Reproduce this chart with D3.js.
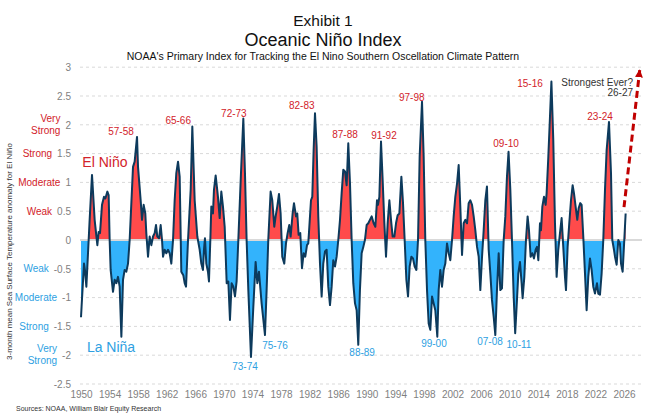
<!DOCTYPE html>
<html>
<head>
<meta charset="utf-8">
<style>
  body { margin: 0; background: #fff; }
  svg { font-family: "Liberation Sans", Arial, sans-serif; }
</style>
</head>
<body>
<svg width="653" height="414"></svg>
<script src="https://d3js.org/d3.v7.min.js"></script>
<script>
// index at its turning points (decimal year, value)
const years = [
  1950.00, 1950.08, 1950.42, 1950.55, 1950.75, 1951.21, 1951.54, 1951.91, 1952.29, 1952.47, 1952.66, 1952.94,
  1953.22, 1953.41, 1953.69, 1953.87, 1954.01, 1954.15, 1954.48, 1954.71, 1954.95, 1955.18, 1955.41, 1955.65,
  1955.88, 1956.11, 1956.34, 1956.58, 1956.81, 1957.28, 1957.51, 1957.84, 1957.98, 1958.35, 1958.54, 1958.77,
  1959.00, 1959.14, 1959.38, 1959.61, 1959.84, 1960.08, 1960.31, 1960.50, 1960.68, 1960.92, 1961.15, 1961.34,
  1961.48, 1961.71, 1961.94, 1962.18, 1962.41, 1962.64, 1962.88, 1963.11, 1963.34, 1963.58, 1963.81, 1964.04,
  1964.32, 1964.51, 1964.70, 1964.98, 1965.35, 1965.58, 1965.91, 1966.28, 1966.61, 1966.84, 1967.07, 1967.21,
  1967.35, 1967.54, 1967.77, 1967.91, 1968.10, 1968.24, 1968.47, 1968.61, 1968.85, 1969.17, 1969.41, 1969.64,
  1969.87, 1970.11, 1970.39, 1970.62, 1970.85, 1971.08, 1971.32, 1971.55, 1971.78, 1972.02, 1972.39, 1972.72,
  1972.95, 1973.18, 1973.42, 1973.79, 1974.12, 1974.44, 1974.68, 1974.91, 1975.28, 1975.75, 1975.98, 1976.21,
  1976.54, 1976.77, 1977.05, 1977.24, 1977.47, 1977.71, 1977.94, 1978.17, 1978.45, 1978.69, 1978.92, 1979.15,
  1979.34, 1979.62, 1979.81, 1980.09, 1980.27, 1980.46, 1980.69, 1980.93, 1981.16, 1981.39, 1981.63, 1981.81,
  1982.05, 1982.19, 1982.37, 1982.56, 1982.75, 1982.98, 1983.21, 1983.45, 1983.68, 1983.91, 1984.15, 1984.38,
  1984.61, 1984.85, 1985.08, 1985.31, 1985.55, 1985.78, 1986.01, 1986.25, 1986.48, 1986.71, 1986.95, 1987.18,
  1987.41, 1987.65, 1987.88, 1988.11, 1988.35, 1988.58, 1988.81, 1989.04, 1989.28, 1989.51, 1989.74, 1989.98,
  1990.21, 1990.68, 1990.96, 1991.20, 1991.43, 1991.57, 1991.76, 1991.99, 1992.22, 1992.46, 1992.69, 1992.92,
  1993.16, 1993.39, 1993.62, 1993.86, 1994.09, 1994.32, 1994.56, 1994.84, 1995.07, 1995.30, 1995.54, 1995.77,
  1996.00, 1996.24, 1996.47, 1996.70, 1996.94, 1997.17, 1997.40, 1997.73, 1997.96, 1998.19, 1998.43, 1998.66,
  1998.89, 1999.13, 1999.36, 1999.59, 1999.87, 2000.06, 2000.29, 2000.53, 2000.76, 2000.99, 2001.23, 2001.46,
  2001.69, 2001.93, 2002.16, 2002.39, 2002.63, 2002.86, 2003.09, 2003.33, 2003.56, 2003.79, 2004.03, 2004.26,
  2004.49, 2004.73, 2004.96, 2005.19, 2005.43, 2005.66, 2005.89, 2006.13, 2006.36, 2006.59, 2006.82, 2007.06,
  2007.29, 2007.52, 2007.76, 2007.99, 2008.22, 2008.46, 2008.69, 2008.92, 2009.16, 2009.39, 2009.62, 2009.84,
  2010.09, 2010.32, 2010.56, 2010.77, 2010.97, 2011.21, 2011.44, 2011.67, 2011.81, 2012.05, 2012.28, 2012.51,
  2012.70, 2012.93, 2013.17, 2013.40, 2013.63, 2013.82, 2014.01, 2014.24, 2014.38, 2014.57, 2014.80, 2015.03,
  2015.17, 2015.41, 2015.64, 2015.84, 2016.10, 2016.34, 2016.57, 2016.80, 2017.04, 2017.27, 2017.50, 2017.74,
  2017.88, 2018.11, 2018.34, 2018.58, 2018.81, 2019.00, 2019.23, 2019.46, 2019.65, 2019.88, 2020.07, 2020.30,
  2020.54, 2020.77, 2021.00, 2021.24, 2021.47, 2021.70, 2021.94, 2022.03, 2022.22, 2022.40, 2022.64, 2022.87,
  2023.10, 2023.34, 2023.57, 2023.90, 2024.18, 2024.36, 2024.60, 2024.74, 2024.97, 2025.20, 2025.43, 2025.58,
  2025.81, 2026.04, 2026.23
];
const oni = [
  -1.34, -1.16, -0.41, -0.52, -0.81, 0.35, 1.13, 0.35, -0.09, 0.14, 0.12, 0.61,
  0.75, 0.72, 0.84, 0.78, 0.00, -0.52, -0.90, -0.69, -0.75, -0.64, -0.81, -1.68,
  -0.69, -0.52, -0.55, -0.41, 0.00, 1.27, 1.36, 1.79, 1.27, 0.69, 0.35, 0.61,
  0.46, 0.12, -0.29, 0.06, -0.09, 0.06, 0.12, 0.26, 0.06, 0.03, 0.26, 0.00,
  -0.29, -0.17, -0.23, -0.17, -0.23, -0.41, 0.00, 0.69, 1.16, 1.36, 1.10, -0.55,
  -0.61, -0.75, -0.81, 0.00, 0.87, 1.97, 0.69, 0.06, -0.17, -0.41, -0.52, -0.17,
  0.03, -0.41, -0.55, -0.72, 0.00, 0.58, 0.46, 0.87, 1.12, 0.75, 0.38, 0.84,
  0.58, 0.23, -0.75, -0.72, -1.39, -0.75, -0.81, -0.98, -0.72, 0.00, 1.16, 2.11,
  1.16, 0.00, -0.87, -2.03, -1.16, -0.38, -0.75, -0.55, -1.10, -1.65, -0.87, 0.00,
  0.84, 0.69, 0.23, 0.41, 0.58, 0.80, 0.46, -0.29, -0.41, -0.06, 0.12, 0.26,
  0.06, 0.46, 0.64, 0.41, 0.46, 0.09, 0.12, -0.49, -0.23, -0.29, -0.09, -0.06,
  0.41, 0.69, 0.75, 1.56, 2.20, 1.62, 0.41, -0.41, -0.98, -0.41, -0.20, -0.17,
  -0.81, -1.13, -0.81, -0.35, -0.46, -0.29, 0.00, 0.35, 0.81, 1.22, 1.19, 0.95,
  1.68, 0.98, 0.00, -0.75, -1.10, -1.22, -1.82, -0.87, -0.23, -0.12, 0.00, 0.26,
  0.29, 0.41, 0.29, 0.23, 0.69, 0.61, 0.75, 1.71, 1.04, 0.29, -0.29, 0.29,
  0.69, 0.35, 0.06, 0.06, 0.29, 0.43, 0.46, 1.10, 0.64, 0.00, -0.69, -0.98,
  -0.46, -0.29, -0.32, -0.46, -0.52, 0.00, 1.45, 2.40, 1.45, 0.00, -0.87, -1.45,
  -1.56, -0.98, -1.10, -1.22, -1.68, -0.87, -0.52, -0.81, -0.52, -0.41, -0.06, -0.23,
  -0.35, 0.00, 0.41, 0.75, 0.98, 1.30, 0.58, -0.26, 0.29, 0.35, 0.29, 0.64,
  0.69, 0.61, 0.41, 0.17, -0.12, -0.29, -0.87, -0.29, 0.17, 0.69, 0.93, -0.17,
  -0.58, -1.04, -1.33, -1.65, -0.87, -0.23, -0.87, -0.84, 0.00, 0.41, 1.10, 1.53,
  0.87, 0.00, -0.98, -1.62, -1.16, -0.58, -0.38, -0.75, -1.01, -0.64, 0.00, 0.41,
  0.17, -0.29, -0.23, -0.32, -0.17, -0.12, -0.35, 0.29, 0.17, 0.58, 0.75, 0.61,
  0.81, 1.45, 2.14, 2.75, 1.74, 0.29, -0.64, -0.17, 0.12, 0.38, -0.12, -0.64,
  -0.87, -0.12, 0.29, 0.69, 0.95, 0.81, 0.58, 0.35, 0.55, 0.64, 0.61, 0.06,
  -0.58, -1.22, -0.64, -0.32, -0.52, -0.81, -0.93, -0.87, -0.75, -0.93, -0.95, -0.58,
  0.00, 0.87, 1.56, 2.05, 1.16, 0.00, -0.17, -0.29, -0.43, 0.00, -0.06, -0.41,
  -0.55, 0.00, 0.46
];

const xTicks = d3.range(1950, 2027, 4);
const yTicks = [-2.5, -2, -1.5, -1, -0.5, 0, 0.5, 1, 1.5, 2, 2.5, 3];

// strength bands next to the y axis
const ninoLevels = [[0.5, "Weak"], [1, "Moderate"], [1.5, "Strong"], [2, "Very|Strong"]];
const ninaLevels = [[-0.5, "Weak"], [-1, "Moderate"], [-1.5, "Strong"], [-2, "Very|Strong"]];

// episode labels: text, year, value where the label sits
const ninoEvents = [
  ["57-58", 1955.6, 1.89], ["65-66", 1963.6, 2.08], ["72-73", 1971.4, 2.19], ["82-83", 1980.9, 2.34],
  ["87-88", 1986.95, 1.84], ["91-92", 1992.4, 1.81], ["97-98", 1996.3, 2.48], ["09-10", 2009.5, 1.67],
  ["15-16", 2012.85, 2.71], ["23-24", 2022.65, 2.14]
];
const ninaEvents = [
  ["73-74", 1972.95, -2.19], ["75-76", 1977.15, -1.84], ["88-89", 1989.35, -1.96],
  ["99-00", 1999.4, -1.79], ["07-08", 2007.25, -1.77], ["10-11", 2011.3, -1.81]
];

// projected move for 26-27
const projYears = [2026.0, 2028.2];
const projVals = [0.57, 2.95];

const red = "#d2222a", blue = "#2e9fe2";

const svg = d3.select("svg");
const width = +svg.attr("width"), height = +svg.attr("height");

const x = d3.scaleLinear().domain([1950, 2026]).range([81, 624]);
const y = d3.scaleLinear().domain([-2.5, 3]).range([384, 67.2]);

svg.append("rect").attr("width", width).attr("height", height).attr("fill", "#fff");

// titles
svg.append("text").attr("x", 323).attr("y", 26).attr("text-anchor", "middle")
  .attr("font-size", 15.5).attr("fill", "#111").text("Exhibit 1");
svg.append("text").attr("x", 323).attr("y", 46).attr("text-anchor", "middle")
  .attr("font-size", 18).attr("fill", "#111").text("Oceanic Niño Index");
svg.append("text").attr("x", 323).attr("y", 60).attr("text-anchor", "middle")
  .attr("font-size", 10.5).attr("fill", "#111")
  .text("NOAA's Primary Index for Tracking the El Nino Southern Oscellation Climate Pattern");

// dashed gridlines
svg.append("g").selectAll("line")
  .data(yTicks.filter(d => d !== 0))
  .join("line")
  .attr("x1", 80).attr("x2", 642)
  .attr("y1", d => y(d)).attr("y2", d => y(d))
  .attr("stroke", "#d9d9d9").attr("stroke-dasharray", "3,3");

// fills: red above zero, blue below zero
const pts = years.map((yr, i) => [yr, oni[i]]);
const defs = svg.append("defs");
defs.append("clipPath").attr("id", "above").append("rect")
  .attr("x", 0).attr("y", 0).attr("width", width).attr("height", y(0));
defs.append("clipPath").attr("id", "below").append("rect")
  .attr("x", 0).attr("y", y(0)).attr("width", width).attr("height", height - y(0));

const area = d3.area().x(d => x(d[0])).y0(y(0)).y1(d => y(d[1]));
svg.append("path").datum(pts).attr("d", area).attr("fill", "#ff4b4b").attr("clip-path", "url(#above)");
svg.append("path").datum(pts).attr("d", area).attr("fill", "#33b3fc").attr("clip-path", "url(#below)");

// zero line
svg.append("line").attr("x1", 80).attr("x2", 642).attr("y1", y(0)).attr("y2", y(0))
  .attr("stroke", "#d9d9d9").attr("stroke-width", 2);

// the index line
svg.append("path").datum(pts)
  .attr("d", d3.line().x(d => x(d[0])).y(d => y(d[1])))
  .attr("fill", "none").attr("stroke", "#0d3a5c").attr("stroke-width", 2)
  .attr("stroke-linejoin", "round");

// axes
const xAxis = svg.append("g").attr("transform", `translate(0,${y(-2.5)})`)
  .call(d3.axisBottom(x).tickValues(xTicks).tickFormat(d3.format("d")).tickSize(0).tickPadding(7));
const yAxis = svg.append("g").attr("transform", "translate(75,0)")
  .call(d3.axisLeft(y).tickValues(yTicks).tickFormat(d => String(d)).tickSize(0).tickPadding(4));
[xAxis, yAxis].forEach(g => {
  g.select(".domain").remove();
  g.attr("font-family", "Liberation Sans, Arial, sans-serif").attr("font-size", 10);
  g.selectAll("text").attr("fill", "#7f7f7f");
});

// strength words to the left of the tick numbers
function levelLabels(levels, color) {
  levels.forEach(([v, t]) => {
    const tick = yAxis.selectAll(".tick").filter(d => d === v).select("text").node();
    const right = 71 - tick.getComputedTextLength() - 5;
    const lines = t.split("|");
    const txt = svg.append("text").attr("text-anchor", "end").attr("font-size", 10).attr("fill", color);
    if (lines.length === 1) {
      txt.attr("x", right).attr("y", y(v)).attr("dy", "0.35em").text(t);
    } else {
      txt.append("tspan").attr("x", right).attr("y", y(v) - 3).text(lines[0]);
      txt.append("tspan").attr("x", right).attr("y", y(v) + 9).text(lines[1]);
    }
  });
}
levelLabels(ninoLevels, red);
levelLabels(ninaLevels, blue);

// y axis title
svg.append("text")
  .attr("transform", `translate(12,${y(-0.2)}) rotate(-90)`)
  .attr("text-anchor", "middle").attr("font-size", 8).attr("fill", "#333")
  .text("3-month mean Sea Surface Temperature anomaly for El Niño");

// El Niño / La Niña labels
svg.append("text").attr("x", x(1953.35)).attr("y", y(1.35)).attr("dy", "0.35em")
  .attr("text-anchor", "middle").attr("font-size", 14).attr("fill", red).text("El Niño");
svg.append("text").attr("x", x(1954.2)).attr("y", y(-1.86)).attr("dy", "0.35em")
  .attr("text-anchor", "middle").attr("font-size", 14).attr("fill", blue).text("La Niña");

// episode labels
svg.append("g").selectAll("text").data(ninoEvents).join("text")
  .attr("x", d => x(d[1])).attr("y", d => y(d[2])).attr("dy", "0.35em")
  .attr("text-anchor", "middle").attr("font-size", 10).attr("fill", red).text(d => d[0]);
svg.append("g").selectAll("text").data(ninaEvents).join("text")
  .attr("x", d => x(d[1])).attr("y", d => y(d[2])).attr("dy", "0.35em")
  .attr("text-anchor", "middle").attr("font-size", 10).attr("fill", blue).text(d => d[0]);

// projection arrow
defs.append("marker").attr("id", "head")
  .attr("viewBox", "0 0 10 10").attr("refX", 9).attr("refY", 5)
  .attr("markerWidth", 8).attr("markerHeight", 8).attr("markerUnits", "userSpaceOnUse")
  .attr("orient", "auto")
  .append("path").attr("d", "M0,0L10,5L0,10Z").attr("fill", "#c00000");
svg.append("line")
  .attr("x1", x(projYears[0])).attr("y1", y(projVals[0]))
  .attr("x2", x(projYears[1])).attr("y2", y(projVals[1]))
  .attr("stroke", "#c00000").attr("stroke-width", 3).attr("stroke-dasharray", "7,4")
  .attr("marker-end", "url(#head)");

svg.append("text").attr("x", 633).attr("y", 85.5).attr("text-anchor", "end")
  .attr("font-size", 10).attr("fill", "#333").text("Strongest Ever?");
svg.append("text").attr("x", 633).attr("y", 96).attr("text-anchor", "end")
  .attr("font-size", 10).attr("fill", "#333").text("26-27");

// source
svg.append("text").attr("x", 16).attr("y", 411).attr("font-size", 7).attr("fill", "#333")
  .text("Sources: NOAA, William Blair Equity Research");
</script>
</body>
</html>
